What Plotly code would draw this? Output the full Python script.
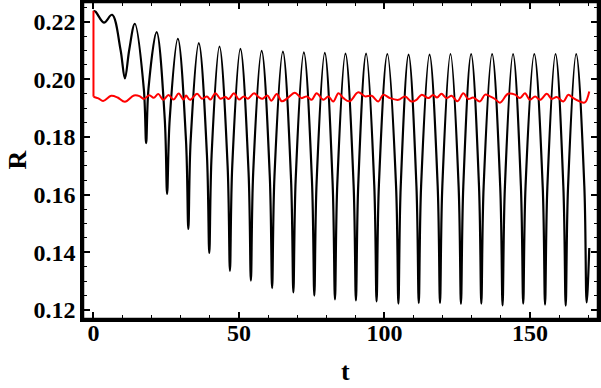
import plotly.graph_objects as go

# black curve: start, peaks, troughs and shoulders
black_t = [0, 0.7, 3.6, 6.4,
           9.3, 10.8, 12.3, 14.2,
           17.3, 18.1, 18.9, 21.7,
           24.5, 25.3, 26.2, 29.0,
           31.8, 32.6, 33.4, 36.2,
           39.0, 39.8, 40.6, 43.3,
           46.1, 46.9, 47.7, 50.5,
           53.3, 54.1, 54.9, 57.8,
           60.6, 61.4, 62.2, 65.1,
           67.9, 68.7, 69.5, 72.3,
           75.1, 75.9, 76.7, 79.5,
           82.2, 83.0, 83.8, 86.6,
           89.4, 90.2, 91.0, 93.7,
           96.5, 97.3, 98.1, 101.0,
           104.0, 104.8, 105.6, 108.3,
           111.0, 111.8, 112.6, 115.5,
           118.3, 119.1, 119.9, 122.7,
           125.5, 126.3, 127.1, 129.8,
           132.5, 133.3, 134.1, 137.0,
           139.8, 140.6, 141.4, 144.2,
           146.9, 147.7, 148.5, 151.5,
           154.4, 155.2, 156.0, 158.8,
           161.5, 162.3, 163.1, 165.9,
           168.7, 169.5, 170.4]
black_r = [0.2238, 0.2235, 0.2197, 0.2224,
           0.2103, 0.2003, 0.2103, 0.2193,
           0.1967, 0.1779, 0.1967, 0.2164,
           0.1862, 0.1603, 0.1862, 0.2141,
           0.1788, 0.1481, 0.1788, 0.2126,
           0.1737, 0.1398, 0.1737, 0.2114,
           0.1700, 0.1336, 0.1700, 0.2106,
           0.1678, 0.1302, 0.1678, 0.2099,
           0.1662, 0.1276, 0.1662, 0.2096,
           0.1653, 0.1261, 0.1653, 0.2094,
           0.1646, 0.1250, 0.1646, 0.2092,
           0.1638, 0.1237, 0.1638, 0.2089,
           0.1635, 0.1233, 0.1635, 0.2089,
           0.1634, 0.1230, 0.1634, 0.2088,
           0.1629, 0.1222, 0.1629, 0.2086,
           0.1629, 0.1224, 0.1629, 0.2086,
           0.1630, 0.1224, 0.1630, 0.2088,
           0.1628, 0.1221, 0.1628, 0.2088,
           0.1629, 0.1222, 0.1629, 0.2088,
           0.1626, 0.1216, 0.1626, 0.2088,
           0.1629, 0.1222, 0.1629, 0.2088,
           0.1627, 0.1219, 0.1627, 0.2088,
           0.1625, 0.1215, 0.1625, 0.2088,
           0.1630, 0.1226, 0.1415]

# red curve
red_t = [0, 0, 1.7, 3.3, 6.1, 8.3, 10.8, 13.9, 15.8, 17.3, 19.2, 20.7, 22.3, 24.0,
         25.8, 27.5, 29.3, 30.9, 31.8, 33.2, 35.6, 37.3, 39.0, 40.2, 41.9, 43.6,
         45.3, 46.5, 48.3, 50.0, 51.7, 53.1, 55.2, 56.7, 58.1, 59.8, 61.1, 63.0,
         64.7, 66.7, 69.2, 71.5, 73.3, 75.0, 76.7, 79.0, 80.7, 82.4, 84.2, 85.9,
         88.0, 91.0, 93.3, 95.6, 97.9, 99.6, 101.9, 104.8, 107.1, 109.3, 111.0,
         112.8, 115.1, 116.7, 118.1, 119.6, 121.3, 123.1, 125.1, 127.1, 128.8,
         130.5, 132.8, 134.6, 136.3, 138.0, 139.7, 142.5, 144.9, 146.6, 148.3,
         150.0, 151.8, 153.5, 155.8, 157.5, 159.2, 161.5, 163.2, 164.9, 167.2,
         168.9, 170.4]
red_r = [0.2238, 0.1940, 0.1934, 0.1925, 0.1943, 0.1937, 0.1922, 0.1944, 0.1942, 0.1932,
         0.1945, 0.1936, 0.1949, 0.1929, 0.1946, 0.1930, 0.1951, 0.1930, 0.1944, 0.1929,
         0.1950, 0.1933, 0.1941, 0.1930, 0.1952, 0.1933, 0.1939, 0.1932, 0.1952, 0.1930,
         0.1941, 0.1933, 0.1952, 0.1939, 0.1933, 0.1944, 0.1926, 0.1949, 0.1924, 0.1935,
         0.1954, 0.1935, 0.1941, 0.1929, 0.1952, 0.1929, 0.1941, 0.1923, 0.1952, 0.1935,
         0.1924, 0.1955, 0.1941, 0.1943, 0.1923, 0.1947, 0.1935, 0.1929, 0.1941, 0.1923,
         0.1929, 0.1947, 0.1935, 0.1946, 0.1937, 0.1950, 0.1935, 0.1943, 0.1924, 0.1952,
         0.1932, 0.1937, 0.1923, 0.1947, 0.1941, 0.1932, 0.1919, 0.1950, 0.1947, 0.1935,
         0.1952, 0.1929, 0.1941, 0.1929, 0.1950, 0.1932, 0.1939, 0.1923, 0.1947, 0.1935,
         0.1923, 0.1920, 0.1958]

x_ticks = [0, 50, 100, 150]
y_ticks = [0.12, 0.14, 0.16, 0.18, 0.20, 0.22]

font = dict(family="Liberation Serif", size=24, color="black", weight="bold")

fig = go.Figure()
fig.add_trace(go.Scatter(x=black_t, y=black_r, mode="lines",
                         line=dict(color="black", width=2.2, shape="spline", smoothing=1)))
# initial vertical drop of the red curve
fig.add_trace(go.Scatter(x=red_t[:2], y=red_r[:2], mode="lines",
                         line=dict(color="#ff0000", width=2)))
fig.add_trace(go.Scatter(x=red_t[1:], y=red_r[1:], mode="lines",
                         line=dict(color="#ff0000", width=2, shape="spline", smoothing=1)))

axis_style = dict(showline=True, linecolor="black", linewidth=2.5, mirror="allticks",
                  ticks="inside", ticklen=7, tickwidth=1.5, tickcolor="black",
                  showgrid=False, zeroline=False, tickfont=font, automargin=False)

fig.update_xaxes(range=[-3.6, 173.4], tickvals=x_ticks, ticklabelstandoff=-10, **axis_style,
                 minor=dict(dtick=10, tick0=0, ticklen=4, tickwidth=1.2,
                            tickcolor="black", ticks="inside", showgrid=False))
fig.update_yaxes(range=[0.11688, 0.22684], tickvals=y_ticks, tickformat=".2f", **axis_style,
                 minor=dict(dtick=0.005, tick0=0.12, ticklen=4, tickwidth=1.2,
                            tickcolor="black", ticks="inside", showgrid=False))

# frame around the plot area
fig.add_shape(type="rect", xref="paper", yref="paper", x0=0, y0=0, x1=1, y1=1,
              line=dict(color="black", width=2.5), layer="above")

fig.add_annotation(text="R", xref="paper", yref="paper", x=-0.128, y=0.5,
                   xanchor="center", yanchor="middle",
                   textangle=-90, showarrow=False, font=dict(font, size=26))
fig.add_annotation(text="t", xref="paper", yref="paper", x=0.509, y=-0.167,
                   xanchor="center", yanchor="middle",
                   showarrow=False, font=dict(font, size=26))

fig.update_layout(width=601, height=388, showlegend=False,
                  plot_bgcolor="white", paper_bgcolor="white",
                  margin=dict(l=83, r=3, t=2, b=69))

# drop the default page margin so the figure sits at the window's corner
fig.write_html("out.html", config={"displayModeBar": False},
               post_script="document.body.style.margin='0';")
